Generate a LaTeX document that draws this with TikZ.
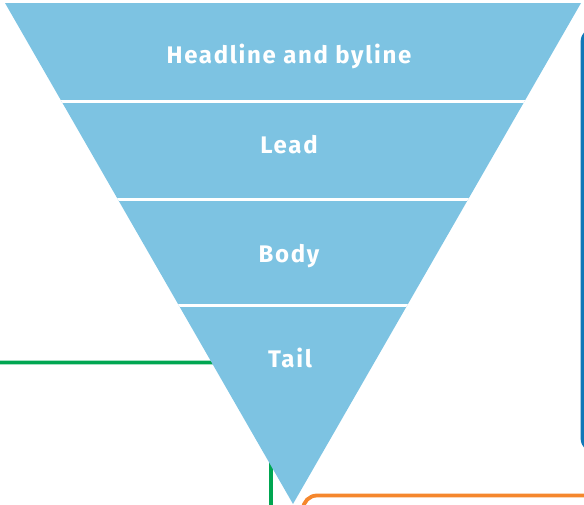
\documentclass[tikz,border=0pt]{standalone}
\usepackage{fontspec}
\setmainfont{Fira Sans}
\newfontfamily\layerfont[LetterSpace=7]{Fira Sans}
\usepackage{tikz}
\usetikzlibrary{positioning}
\definecolor{pyramid}{RGB}{125,195,226}
\definecolor{boxgreen}{RGB}{0,166,81}
\definecolor{boxblue}{RGB}{16,120,184}
\definecolor{boxorange}{RGB}{245,135,45}

\begin{document}
\begin{tikzpicture}[x=1pt,y=-1pt,
  layer/.style={text=white,font=\layerfont\bfseries\fontsize{24}{27}\selectfont,anchor=base},
  frame/.style={line width=3.8pt,rounded corners=14pt}]
  \useasboundingbox (0,0) rectangle (584,504);

  % 周りの枠
  \draw[frame,boxgreen] (-20,362.5) -- (271,362.5) -- (271,540);
  \draw[frame,boxorange] (303,540) -- (303,495.5) -- (620,495.5);
  \draw[frame,boxblue] (620,28) -- (582.5,28) -- (582.5,452) -- (620,452);

  % 逆三角形
  \coordinate (tl) at (5,3);
  \coordinate (tr) at (581,3);
  \coordinate (apex) at (293,504);
  \fill[pyramid] (tl) -- (tr) -- (apex) -- cycle;

  % 区切り線
  \begin{scope}
    \clip (tl) -- (tr) -- (apex) -- cycle;
    \foreach \y in {101.5,199.5,305.5}
      \draw[white,line width=3.5pt] (0,\y) -- (584,\y);
  \end{scope}

  % 各層のラベル
  \node[layer] (headline) at (289,63) {Headline and byline};
  \node[layer] (lead) at (289,153) {Lead};
  \node[layer] (body) at (289,262) {Body};
  \node[layer] (tail) at (290,367) {Tail};
\end{tikzpicture}
\end{document}
